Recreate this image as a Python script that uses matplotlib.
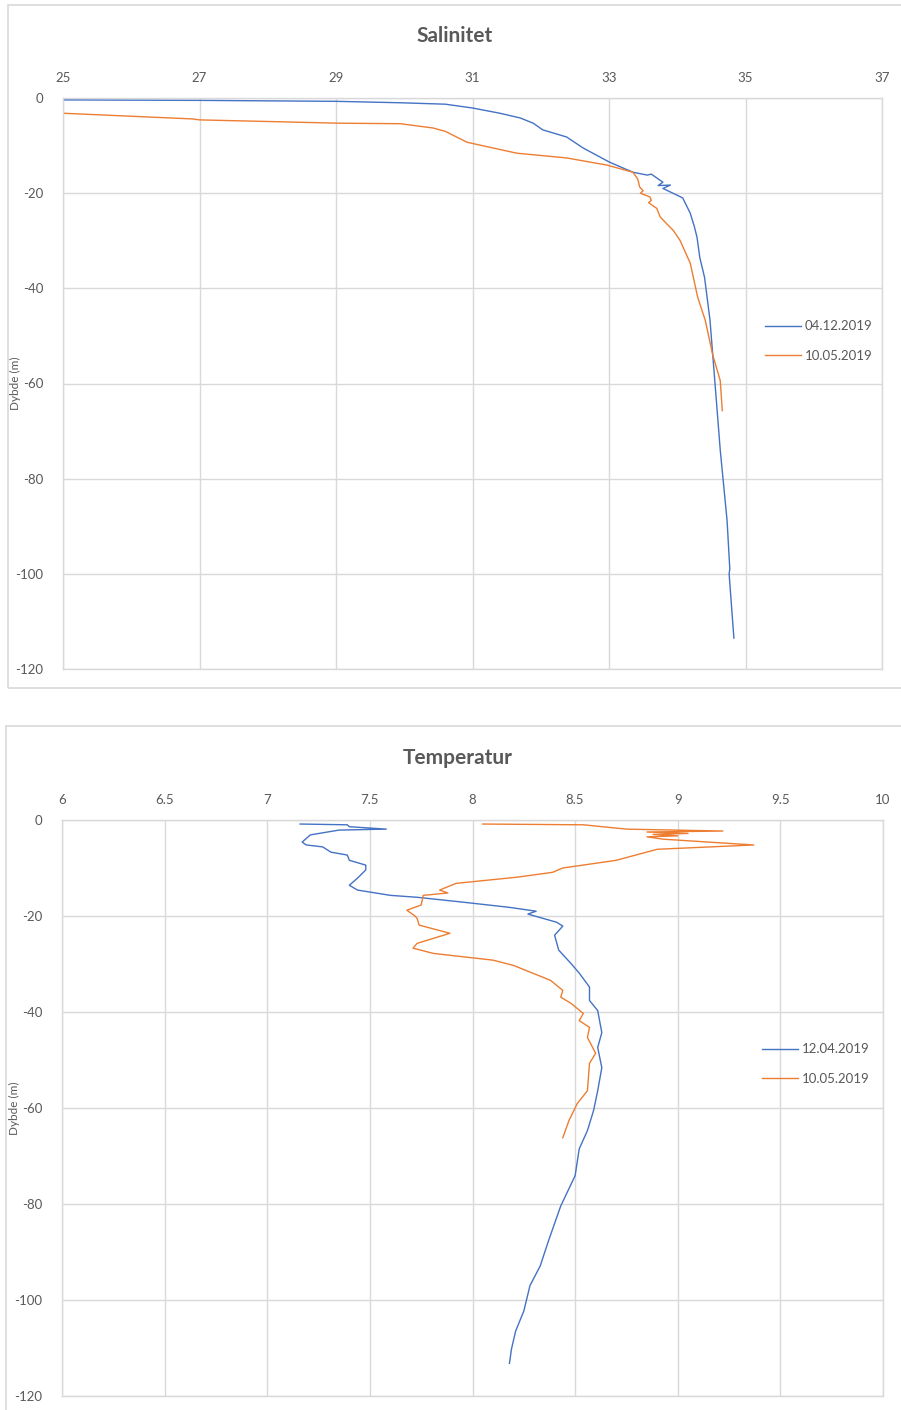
import matplotlib.pyplot as plt
from matplotlib.patches import Rectangle

# Salinity profiles (value, depth in m)
sal_blue_x = [25.0, 27.0, 29.0, 29.94, 30.6, 31.0, 31.4, 31.7, 31.89, 32.03, 32.38, 32.62, 33.01,
              33.35, 33.56, 33.62, 33.79, 33.72, 33.9, 33.79, 34.08, 34.19, 34.25, 34.29, 34.33,
              34.4, 34.48, 34.55, 34.63, 34.73, 34.77, 34.76, 34.83]
sal_blue_y = [-0.4, -0.5, -0.7, -1.0, -1.3, -2.1, -3.2, -4.2, -5.3, -6.7, -8.2, -10.5, -13.5,
              -15.6, -16.2, -16.0, -17.7, -18.4, -18.3, -19.0, -21.0, -24.2, -27.0, -29.3, -33.5,
              -37.7, -46.7, -59.4, -74.0, -88.8, -99.0, -100.0, -113.5]

sal_orange_x = [25.0, 26.1, 26.9, 27.0, 29.06, 29.94, 30.42, 30.6, 30.92, 31.3, 31.65, 32.38, 32.97,
                33.35, 33.42, 33.45, 33.5, 33.46, 33.6, 33.62, 33.58, 33.7, 33.75, 33.85, 33.94,
                34.04, 34.19, 34.3, 34.41, 34.52, 34.63, 34.66]
sal_orange_y = [-3.2, -3.9, -4.4, -4.6, -5.3, -5.4, -6.3, -7.0, -9.3, -10.5, -11.6, -12.6, -14.1,
                -15.6, -17.0, -18.7, -19.5, -20.0, -20.8, -21.5, -22.0, -23.2, -25.0, -26.5, -27.8,
                -29.9, -34.7, -41.9, -46.7, -54.0, -59.4, -65.7]

# Temperature profiles (value, depth in m)
temp_blue_x = [7.16, 7.39, 7.40, 7.58, 7.35, 7.21, 7.17, 7.19, 7.27, 7.31, 7.39, 7.40, 7.48, 7.48,
               7.44, 7.40, 7.44, 7.60, 7.73, 7.95, 8.18, 8.31, 8.27, 8.41, 8.44, 8.40, 8.42, 8.48,
               8.52, 8.57, 8.57, 8.61, 8.63, 8.61, 8.63, 8.61, 8.59, 8.56, 8.52, 8.50, 8.43, 8.37,
               8.33, 8.28, 8.25, 8.21, 8.19, 8.18]
temp_blue_y = [-0.84, -1.0, -1.4, -1.9, -2.1, -3.1, -4.6, -5.2, -5.6, -6.7, -7.3, -8.4, -9.4, -10.4,
               -12.1, -13.6, -14.6, -15.7, -16.1, -17.1, -18.2, -19.0, -19.6, -21.3, -22.1, -24.0,
               -27.1, -29.9, -31.9, -34.8, -37.6, -39.7, -44.3, -47.4, -51.6, -56.4, -60.5, -64.7,
               -68.5, -74.1, -80.4, -87.7, -92.9, -97.0, -102.3, -106.5, -110.2, -113.2]

temp_orange_x = [8.05, 8.54, 8.75, 9.22, 8.85, 9.05, 8.88, 9.0, 8.85, 8.93, 9.37, 8.9, 8.7, 8.44,
                 8.39, 8.22, 7.92, 7.84, 7.88, 7.76, 7.75, 7.68, 7.72, 7.73, 7.74, 7.89, 7.73, 7.71,
                 7.81, 8.10, 8.20, 8.38, 8.44, 8.43, 8.48, 8.54, 8.52, 8.57, 8.56, 8.60, 8.57, 8.56,
                 8.51, 8.47, 8.44]
temp_orange_y = [-0.84, -1.0, -1.9, -2.3, -2.5, -2.8, -3.0, -3.3, -3.5, -4.0, -5.2, -6.1, -8.4, -10.0,
                 -10.9, -11.9, -13.2, -14.6, -15.2, -15.7, -17.7, -18.8, -20.0, -20.5, -21.9, -23.6,
                 -25.7, -26.7, -27.8, -29.2, -30.3, -33.4, -35.5, -36.9, -38.2, -40.3, -41.8, -43.2,
                 -45.3, -48.6, -50.7, -56.4, -59.1, -62.6, -66.2]

sal_ticks = [25, 27, 29, 31, 33, 35, 37]
temp_ticks = [6, 6.5, 7, 7.5, 8, 8.5, 9, 9.5, 10]
temp_labels = ['6', '6.5', '7', '7.5', '8', '8.5', '9', '9.5', '10']
depth_ticks = [0, -20, -40, -60, -80, -100, -120]

BLUE = '#4472C4'
ORANGE = '#ED7D31'
TEXT = '#595959'
GRID = '#D9D9D9'

plt.rcParams['font.family'] = ['Lato', 'DejaVu Sans']
plt.rcParams['axes.unicode_minus'] = False

W, H = 901, 1410
fig = plt.figure(figsize=(W / 100, H / 100), dpi=100)


def px_axes(x0, y0, x1, y1):
    # axes rectangle from pixel coordinates (top-left origin)
    return fig.add_axes([x0 / W, 1 - y1 / H, (x1 - x0) / W, (y1 - y0) / H])


def chart_box(x0, y0, x1, y1):
    fig.patches.append(Rectangle((x0 / W, 1 - y1 / H), (x1 - x0) / W, (y1 - y0) / H,
                                 transform=fig.transFigure, fill=False, edgecolor=GRID, lw=1.2))


def style(ax, xlim, xticks, xlabels):
    ax.set_xlim(xlim)
    ax.set_ylim(-120, 0)
    ax.xaxis.tick_top()
    ax.set_xticks(xticks)
    ax.set_xticklabels(xlabels)
    ax.set_yticks(depth_ticks)
    ax.tick_params(axis='both', length=0, colors=TEXT, labelsize=9.5)
    ax.tick_params(axis='x', pad=10)
    ax.tick_params(axis='y', pad=14)
    ax.grid(True, color=GRID, lw=1.0)
    ax.set_axisbelow(True)
    for s in ax.spines.values():
        s.set_color(GRID)
        s.set_linewidth(1.0)


# Salinity chart
chart_box(8, 5, 905, 688)
ax1 = px_axes(63, 98, 882, 669)
ax1.plot(sal_blue_x, sal_blue_y, color=BLUE, lw=1.0, label='04.12.2019')
ax1.plot(sal_orange_x, sal_orange_y, color=ORANGE, lw=1.0, label='10.05.2019')
style(ax1, (25, 37), sal_ticks, [str(t) for t in sal_ticks])
fig.text(455 / W, 1 - 36 / H, 'Salinitet', ha='center', va='center', fontsize=15,
         fontweight='bold', color=TEXT)
fig.text(15 / W, 1 - 383 / H, 'Dybde (m)', ha='center', va='center', rotation=90,
         fontsize=8.5, color=TEXT)
ax1.legend(loc='center left', bbox_to_anchor=(765 / W, 1 - 341 / H), bbox_transform=fig.transFigure,
           frameon=False, fontsize=9.5, labelcolor=TEXT, handlelength=2.7, handletextpad=0.3,
           labelspacing=1.3, borderpad=0, borderaxespad=0)

# Temperature chart
chart_box(6, 726, 905, 1415)
ax2 = px_axes(62, 820, 883, 1396)
ax2.plot(temp_blue_x, temp_blue_y, color=BLUE, lw=1.0, label='12.04.2019')
ax2.plot(temp_orange_x, temp_orange_y, color=ORANGE, lw=1.0, label='10.05.2019')
style(ax2, (6, 10), temp_ticks, temp_labels)
fig.text(458 / W, 1 - 758 / H, 'Temperatur', ha='center', va='center', fontsize=15,
         fontweight='bold', color=TEXT)
fig.text(14 / W, 1 - 1108 / H, 'Dybde (m)', ha='center', va='center', rotation=90,
         fontsize=8.5, color=TEXT)
ax2.legend(loc='center left', bbox_to_anchor=(762 / W, 1 - 1064 / H), bbox_transform=fig.transFigure,
           frameon=False, fontsize=9.5, labelcolor=TEXT, handlelength=2.7, handletextpad=0.3,
           labelspacing=1.3, borderpad=0, borderaxespad=0)

fig.savefig('out.png', dpi=100)
